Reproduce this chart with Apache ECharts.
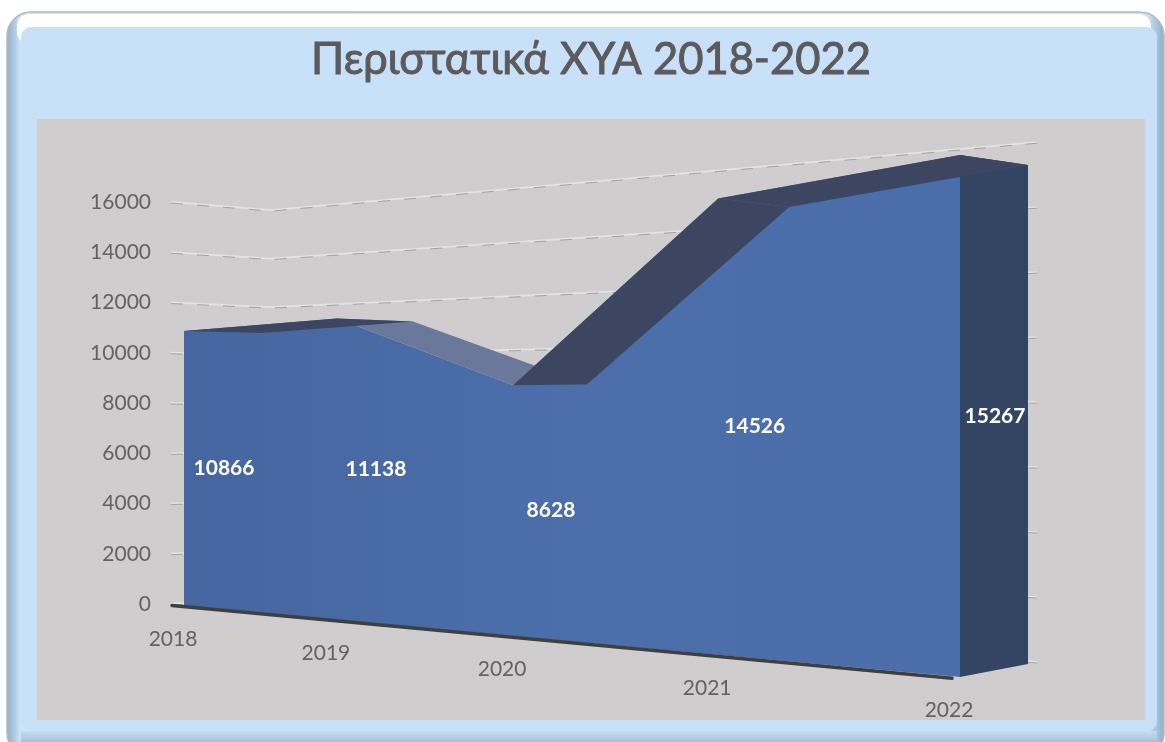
<!DOCTYPE html>
<html>
<head>
<meta charset="utf-8">
<style>html,body{margin:0;padding:0;background:#fff}#c{width:1165px;height:742px}</style>
<script src="https://cdn.jsdelivr.net/npm/echarts@6/dist/echarts.min.js"></script>
</head>
<body>
<div id="c"></div>
<script>
const titleText = 'Περιστατικά ΧΥΑ 2018-2022';
const categories = ['2018', '2019', '2020', '2021', '2022'];
const cases = [10866, 11138, 8628, 14526, 15267];
const yTicks = [0, 2000, 4000, 6000, 8000, 10000, 12000, 14000, 16000];

const GRID = { left: 184, top: 202, width: 776, height: 402 };
const FONT = 'Lato, "Noto Sans", sans-serif';
const TEXT = '#636363';

// perspective of the 3D picture
const SKEW = 1.358;
const warpX = (x) => { const u = (x - GRID.left) / GRID.width; return GRID.left + GRID.width * u / (SKEW - (SKEW - 1) * u); };
const frontBase = (x) => 606 + 0.0915 * (x - 184);
const frontGain = (x) => 1.0074 + 4.553e-4 * (x - 184);
const rearBase = (x) => 664 + 0.0958 * (x - 1028);
const rearGain = (x) => 1.3007 + 4.665e-4 * (x - 1028);
const rearX = (x) => 262 + (x - 184) * 766 / 776;

function frontPoint(api, i, v) {
  const c = api.coord([i, v]), z = api.coord([i, 0]);
  const x = warpX(c[0]);
  return [x, frontBase(x) - (z[1] - c[1]) * frontGain(x)];
}
function rearPoint(api, i, v) {
  const c = api.coord([i, v]), z = api.coord([i, 0]);
  const x = rearX(warpX(c[0]));
  return [x, rearBase(x) - (z[1] - c[1]) * rearGain(x)];
}
function poly(points, fill, z2) {
  return { type: 'polygon', z2: z2, shape: { points: points }, style: { fill: fill, stroke: null } };
}

function renderWall(params, api) {
  const v = api.value(1);
  const c = api.coord([0, v]), z = api.coord([0, 0]);
  const h = z[1] - c[1];
  const pts = [[171, 604 - h], [271, 598 - h * 0.965], [1037, 662 - h * 1.293]];
  return {
    type: 'group', children: [
      { type: 'polyline', shape: { points: pts }, style: { stroke: '#e4e4e4', lineWidth: 1.8, fill: null } },
      { type: 'polyline', shape: { points: pts.map(p => [p[0], p[1] + 1]) }, style: { stroke: '#9c9c9c', lineWidth: 0.9, lineDash: [12, 14], fill: null } }
    ]
  };
}

function renderArea(params, api) {
  const i = params.dataIndex, n = cases.length, children = [];
  const F = cases.map((v, k) => frontPoint(api, k, v));
  const R = cases.map((v, k) => rearPoint(api, k, v));
  if (i === 0) {
    const x0 = F[0][0], x1 = F[n - 1][0], xr = R[n - 1][0];
    const rb = rearBase(xr);
    children.push(poly([F[n - 1], R[n - 1], [xr, rb], [x1, frontBase(x1)]], '#344564', 1));
    const blue = { type: 'linear', x: 0, y: 0, x2: 1, y2: 0, colorStops: [
      { offset: 0, color: '#4566a0' }, { offset: 0.5, color: '#4c6eaa' }, { offset: 1, color: '#4b6eab' } ] };
    children.push(poly(F.concat([[x1, frontBase(x1)], [x0, frontBase(x0)]]), blue, 2));
    children.push({ type: 'line', z2: 6, shape: { x1: x0 - 12, y1: frontBase(x0 - 12) + 0.5, x2: x1 - 8, y2: frontBase(x1 - 8) + 2 },
      style: { stroke: '#3f3f3f', lineWidth: 3.5, lineCap: 'round' } });
  }
  if (i < n - 1) {
    const fill = i === 1 ? '#6a789c' : '#3c4661';
    children.push(poly([F[i], F[i + 1], R[i + 1], R[i]], fill, i === 1 ? 3 : 4));
  }
  const fx = F[i][0];
  children.push({ type: 'text', z2: 8, style: {
    x: (fx + R[i][0]) / 2 + 1, y: (F[i][1] + frontBase(fx)) / 2,
    text: String(cases[i]), fill: '#fff', font: 'bold 21px ' + FONT, align: 'center', verticalAlign: 'middle' } });
  children.push({ type: 'text', z2: 8, style: {
    x: fx - 11, y: frontBase(fx) + 33,
    text: categories[i], fill: TEXT, font: '21px ' + FONT, align: 'center', verticalAlign: 'middle' } });
  return { type: 'group', children: children };
}

const chart = echarts.init(document.getElementById('c'), null, { renderer: 'canvas', width: 1165, height: 742 });
chart.setOption({
  animation: false,
  backgroundColor: '#ffffff',
  title: {
    text: titleText, left: 586, top: 33, textAlign: 'center',
    textStyle: { fontFamily: FONT, fontSize: 43.5, fontWeight: 'normal', color: '#5c5a5c', textBorderColor: '#5c5a5c', textBorderWidth: 1 }
  },
  graphic: [
    { type: 'rect', z: -10, shape: { x: 7, y: 12, width: 1157, height: 745, r: 24 },
      style: { stroke: '#b9b9b9', lineWidth: 1.5, fill: { type: 'linear', x: 0, y: 0, x2: 1, y2: 0, colorStops: [
        { offset: 0, color: '#93aec6' }, { offset: 0.006, color: '#a9c6df' }, { offset: 0.013, color: '#d0e7fb' },
        { offset: 0.5, color: '#c8e1f8' }, { offset: 0.985, color: '#c8e1f8' }, { offset: 0.993, color: '#a9c6df' }, { offset: 1, color: '#8ea9c1' } ] } } },
    { type: 'rect', z: -9, shape: { x: 17, y: 14, width: 1134, height: 30, r: 12 }, style: { fill: '#ffffff' } },
    { type: 'rect', z: -9, shape: { x: 21, y: 731, width: 1136, height: 11, r: 0 },
      style: { fill: { type: 'linear', x: 0, y: 0, x2: 0, y2: 1, colorStops: [{ offset: 0, color: '#c5ddf3' }, { offset: 1, color: '#a8c0d6' }] } } },
    { type: 'rect', z: -8, shape: { x: 21, y: 27, width: 1136, height: 704, r: 10 }, style: { fill: '#c8e1f8' } },
    { type: 'rect', z: -7, shape: { x: 37, y: 119, width: 1108, height: 601 }, style: { fill: '#d0cdce' } }
  ],
  grid: GRID,
  xAxis: { type: 'category', data: categories, boundaryGap: false, show: false },
  yAxis: {
    type: 'value', min: 0, max: 16000, interval: 2000,
    axisLine: { show: false }, axisTick: { show: false }, splitLine: { show: false },
    axisLabel: { color: TEXT, fontFamily: FONT, fontSize: 21, margin: 33, formatter: (v) => String(v) }
  },
  series: [
    { type: 'custom', z: 1, renderItem: renderWall, clip: false, silent: true,
      data: yTicks.map(t => [0, t]), encode: { x: 0, y: 1 } },
    { type: 'custom', z: 2, renderItem: renderArea, clip: false, silent: true,
      data: cases.map((v, i) => [i, v]), encode: { x: 0, y: 1 } }
  ]
});
</script>
</body>
</html>
